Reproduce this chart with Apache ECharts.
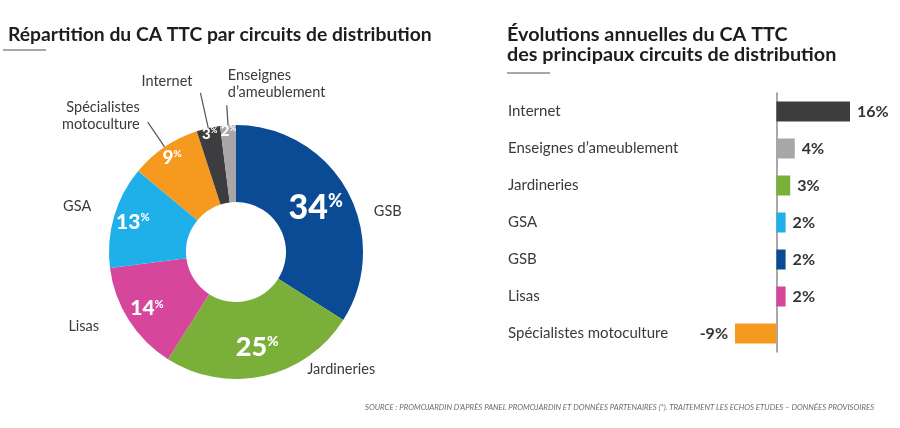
<!DOCTYPE html>
<html lang="fr">
  <head>
    <meta charset="UTF-8" />
    <title>Circuits de distribution</title>
    <script src="https://cdn.jsdelivr.net/npm/echarts@6.0.0/dist/echarts.min.js"></script>
    <style>
      html, body { margin: 0; padding: 0; background: #fff; }
    </style>
  </head>
  <body>
    <div id="main" style="width: 900px; height: 428px"></div>
    <script type="text/javascript">
      // part du CA TTC (donut, sens horaire depuis midi)
      const shareNames = ['GSB', 'Jardineries', 'Lisas', 'GSA', 'Spécialistes motoculture', 'Internet', "Enseignes d'ameublement"];
      const shareLabels = ['GSB', 'Jardineries', 'Lisas', 'GSA', 'Spécialistes\nmotoculture', 'Internet', 'Enseignes\nd’ameublement'];
      const shareValues = [34, 25, 14, 13, 9, 3, 2];
      const shareColors = ['#0b4a94', '#7ab03a', '#d6479c', '#1fb0ea', '#f5991f', '#3d3d3f', '#a7a7a7'];

      // évolutions annuelles (barres)
      const evoCategories = ['Internet', 'Enseignes d’ameublement', 'Jardineries', 'GSA', 'GSB', 'Lisas', 'Spécialistes motoculture'];
      const evoValues = [16, 4, 3, 2, 2, 2, -9];
      const evoColors = ['#3d3d3f', '#a7a7a7', '#7ab03a', '#1fb0ea', '#0b4a94', '#d6479c', '#f5991f'];

      const font = 'Lato';
      const pieCenter = [236, 252];
      const pieRadius = [50, 127];

      // taille et rayon des pourcentages dans l'anneau
      const innerSizes = [34, 27, 21, 21, 19, 15, 15];
      const innerLabelRadius = [88, 94, 102, 104, 110, 117, 117];

      // réglages des étiquettes extérieures
      const outerLines = [
        { show: false, length: 12, length2: 8 },
        { show: false, length: 2, length2: 35 },
        { show: false, length: 2, length2: 20 },
        { show: false, length: 4, length2: 16 },
        { show: true, length: 30, length2: 0 },
        { show: true, length: 36, length2: 0 },
        { show: true, length: 20, length2: 0 }
      ];
      const outerShift = [[0, 26], [0, -9], [0, 5], [5, -9], [0, -6], [0, -12], [9, -21]];
      const outerAlign = [null, null, null, null, null, null, 'left'];

      let myChart = echarts.init(document.getElementById('main'));

      let innerData = shareValues.map((v, i) => ({
        name: shareNames[i],
        value: v,
        itemStyle: { color: shareColors[i] },
        label: {
          rich: {
            n: { fontSize: innerSizes[i], fontWeight: 900, color: '#fff', fontFamily: font },
            p: { fontSize: Math.round(innerSizes[i] * 0.52), fontWeight: 900, color: '#fff', fontFamily: font, padding: [0, 0, innerSizes[i] * 0.42, 0] }
          }
        }
      }));

      let outerData = shareValues.map((v, i) => ({
        name: shareLabels[i],
        value: v,
        labelLine: outerLines[i]
      }));

      let options = {
        animation: false,
        title: [
          {
            text: 'Répartition du CA TTC par circuits de distribution',
            left: 8, top: 25, padding: 0,
            textStyle: { fontFamily: font, fontSize: 19.3, fontWeight: 700, color: '#1d1d1f' }
          },
          {
            text: 'Évolutions annuelles du CA TTC\ndes principaux circuits de distribution',
            left: 507, top: 25, padding: 0,
            textStyle: { fontFamily: font, fontSize: 19.8, fontWeight: 700, color: '#1d1d1f', lineHeight: 20 }
          },
          {
            text: 'SOURCE : PROMOJARDIN D’APRÈS PANEL PROMOJARDIN ET DONNÉES PARTENAIRES (*). TRAITEMENT LES ECHOS ETUDES – DONNÉES PROVISOIRES',
            left: 365, top: 403, padding: 0,
            textStyle: { fontFamily: font, fontSize: 7.8, fontStyle: 'italic', fontWeight: 400, color: '#6b6b6b' }
          }
        ],
        graphic: [
          { type: 'line', shape: { x1: 3, y1: 50, x2: 46, y2: 50 }, style: { stroke: '#8a8a8a', lineWidth: 1.5 } },
          { type: 'line', shape: { x1: 507, y1: 73, x2: 550, y2: 73 }, style: { stroke: '#8a8a8a', lineWidth: 1.5 } }
        ],
        grid: { left: 735, right: 50, top: 93, bottom: 76, outerBoundsMode: 'none' },
        xAxis: {
          type: 'value',
          min: -9,
          max: 16,
          show: false
        },
        yAxis: {
          type: 'category',
          data: evoCategories,
          inverse: true,
          axisLine: { onZero: true, lineStyle: { color: '#8c8c8c', width: 1.5 } },
          axisTick: { show: false },
          splitLine: { show: false },
          axisLabel: {
            align: 'left',
            margin: 227,
            fontFamily: font,
            fontSize: 15,
            color: '#3a3a3a'
          }
        },
        series: [
          {
            type: 'pie',
            center: pieCenter,
            radius: pieRadius,
            startAngle: 90,
            clockwise: true,
            silent: true,
            data: innerData,
            label: {
              position: 'inside',
              formatter: (p) => '{n|' + p.value + '}{p|%}'
            },
            labelLine: { show: false },
            labelLayout: (p) => {
              const r = p.labelRect;
              const lx = r.x + r.width / 2 - pieCenter[0];
              const ly = r.y + r.height / 2 - pieCenter[1];
              const mid = (pieRadius[0] + pieRadius[1]) / 2;
              const k = innerLabelRadius[p.dataIndex] / mid - 1;
              return { dx: lx * k, dy: ly * k };
            }
          },
          {
            type: 'pie',
            center: pieCenter,
            radius: pieRadius,
            startAngle: 90,
            clockwise: true,
            silent: true,
            avoidLabelOverlap: false,
            data: outerData,
            itemStyle: { color: 'rgba(0,0,0,0)' },
            label: {
              position: 'outside',
              fontFamily: font,
              fontSize: 14.5,
              lineHeight: 17,
              color: '#3a3a3a',
              distanceToLabelLine: 8
            },
            labelLine: { lineStyle: { color: '#555', width: 1.2 } },
            labelLayout: (p) => {
              const out = { dx: outerShift[p.dataIndex][0], dy: outerShift[p.dataIndex][1] };
              if (outerAlign[p.dataIndex]) out.align = outerAlign[p.dataIndex];
              return out;
            }
          },
          {
            type: 'bar',
            data: evoValues.map((v, i) => ({
              value: v,
              itemStyle: { color: evoColors[i] },
              label: { position: v < 0 ? 'left' : 'right' }
            })),
            barWidth: 20,
            label: {
              show: true,
              distance: 7,
              formatter: '{c}%',
              fontFamily: font,
              fontSize: 16,
              fontWeight: 700,
              color: '#333'
            }
          }
        ]
      };

      myChart.setOption(options);
    </script>
  </body>
</html>
